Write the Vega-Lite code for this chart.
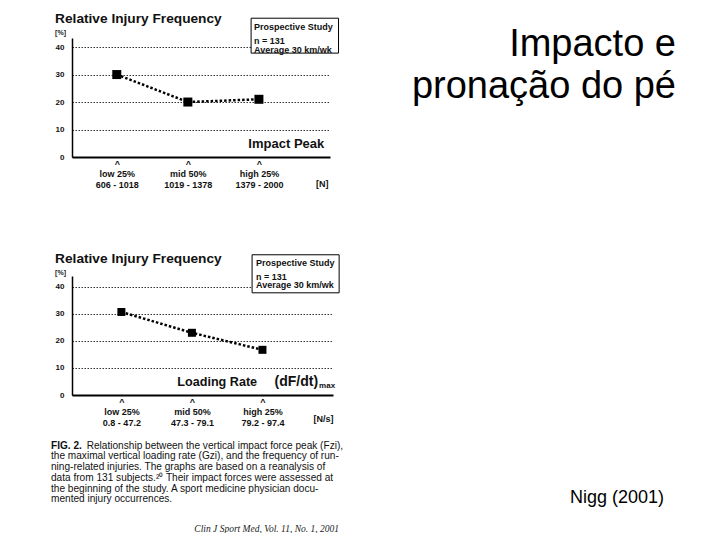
{
  "$schema": "https://vega.github.io/schema/vega-lite/v6.json",
  "background": "white",
  "padding": {"left": 51, "top": 12, "right": 5, "bottom": 0},
  "config": {
    "view": {"stroke": null},
    "font": "Liberation Sans",
    "text": {"font": "Liberation Sans"},
    "axis": {"labelFont": "Liberation Sans", "titleFont": "Liberation Sans"}
  },
  "spacing": 20,
  "hconcat": [
    {
      "spacing": 13.5,
      "vconcat": [
        {
          "spacing": 62,
          "vconcat": [
            {
              "width": 258,
              "height": 119,
              "title": {"text": "Relative Injury Frequency", "subtitle": "[%]", "anchor": "start", "frame": "bounds", "font": "Liberation Sans", "fontSize": 13.7, "fontWeight": "bold", "color": "#111", "subtitleFont": "Liberation Sans", "subtitleFontSize": 7, "subtitleFontWeight": "bold", "subtitleColor": "#222", "subtitlePadding": 3, "offset": -18},
              "data": {"values": [
                {"quartile": 1, "frequency": 30},
                {"quartile": 2, "frequency": 20},
                {"quartile": 3, "frequency": 21}
              ]},
              "layer": [
                {
                  "mark": {"type": "line", "color": "black", "strokeWidth": 2.5, "strokeDash": [2.5, 2]},
                  "encoding": {
                    "x": {"field": "quartile", "type": "quantitative", "scale": {"domain": [0.37, 4.0], "nice": false, "zero": false},
                      "axis": {"values": [1, 2, 3], "labelExpr": "split(datum.value == 1 ? '^|low 25%|606 - 1018' : datum.value == 2 ? '^|mid 50%|1019 - 1378' : '^|high 25%|1379 - 2000', '|')", "title": "[N]", "titleX": 256, "titleY": 26, "titleAlign": "right", "titleBaseline": "middle", "titleFontSize": 9, "titleFontWeight": "bold", "titleColor": "#111", "domainColor": "black", "domainWidth": 2, "ticks": false, "tickSize": 0, "grid": false, "labelAngle": 0, "labelPadding": 2, "labelFontSize": 9, "labelFontWeight": "bold", "labelLineHeight": 10.5, "labelColor": "#111", "tickCount": 10}},
                    "y": {"field": "frequency", "type": "quantitative", "scale": {"domain": [0, 43.3], "nice": false},
                      "axis": {"values": [0, 10, 20, 30, 40], "tickCount": 10, "title": null, "grid": true, "gridDash": [1.5, 1.5], "gridColor": "#333", "gridWidth": 1, "domainColor": "black", "domainWidth": 1.5, "ticks": false, "tickSize": 0, "labelPadding": 8, "labelFontSize": 8, "labelFontWeight": "bold", "labelColor": "#111"}}
                  }
                },
                {
                  "mark": {"type": "square", "size": 81, "color": "black", "filled": true, "opacity": 1},
                  "encoding": {"x": {"field": "quartile", "type": "quantitative"}, "y": {"field": "frequency", "type": "quantitative"}}
                },
                {
                  "data": {"values": [{"study": "Prospective Study", "details": "n = 131\nAverage 30 km/wk", "measure": "Impact Peak"}]},
                  "layer": [
                    {"mark": {"type": "rect", "fill": "white", "stroke": "black", "strokeWidth": 1},
                     "encoding": {"x": {"datum": 2.89}, "x2": {"datum": 4.12}, "y": {"datum": 50.5}, "y2": {"datum": 37.8}}},
                    {"mark": {"type": "text", "align": "left", "baseline": "middle", "dx": 3, "fontSize": 9, "fontWeight": "bold", "color": "#111"},
                     "encoding": {"x": {"datum": 2.89}, "y": {"datum": 47.4}, "text": {"field": "study"}}},
                    {"mark": {"type": "text", "align": "left", "baseline": "middle", "dx": 3, "fontSize": 9, "fontWeight": "bold", "lineBreak": "\n", "lineHeight": 9, "color": "#111"},
                     "encoding": {"x": {"datum": 2.89}, "y": {"datum": 42.2}, "text": {"field": "details"}}},
                    {"mark": {"type": "text", "align": "right", "baseline": "middle", "fontSize": 13, "fontWeight": "bold", "color": "#111"},
                     "encoding": {"x": {"datum": 3.919}, "y": {"datum": 4.73}, "text": {"field": "measure"}}}
                  ]
                }
              ]
            },
            {
              "width": 261,
              "height": 119,
              "title": {"text": "Relative Injury Frequency", "subtitle": "[%]", "anchor": "start", "frame": "bounds", "font": "Liberation Sans", "fontSize": 13.7, "fontWeight": "bold", "color": "#111", "subtitleFont": "Liberation Sans", "subtitleFontSize": 7, "subtitleFontWeight": "bold", "subtitleColor": "#222", "subtitlePadding": 3, "offset": -21.4},
              "data": {"values": [
                {"quartile": 1, "frequency": 30.7},
                {"quartile": 2, "frequency": 23.0},
                {"quartile": 3, "frequency": 16.7}
              ]},
              "layer": [
                {
                  "mark": {"type": "line", "color": "black", "strokeWidth": 2.5, "strokeDash": [2.5, 2]},
                  "encoding": {
                    "x": {"field": "quartile", "type": "quantitative", "scale": {"domain": [0.3, 4.0], "nice": false, "zero": false},
                      "axis": {"values": [1, 2, 3], "labelExpr": "split(datum.value == 1 ? '^|low 25%|0.8 - 47.2' : datum.value == 2 ? '^|mid 50%|47.3 - 79.1' : '^|high 25%|79.2 - 97.4', '|')", "title": "[N/s]", "titleX": 261, "titleY": 23, "titleAlign": "right", "titleBaseline": "middle", "titleFontSize": 9, "titleFontWeight": "bold", "titleColor": "#111", "domainColor": "black", "domainWidth": 2, "ticks": false, "tickSize": 0, "grid": false, "labelAngle": 0, "labelPadding": 2, "labelFontSize": 9, "labelFontWeight": "bold", "labelLineHeight": 10.5, "labelColor": "#111", "tickCount": 10}},
                    "y": {"field": "frequency", "type": "quantitative", "scale": {"domain": [0, 44], "nice": false},
                      "axis": {"values": [0, 10, 20, 30, 40], "tickCount": 10, "title": null, "grid": true, "gridDash": [1.5, 1.5], "gridColor": "#333", "gridWidth": 1, "domainColor": "black", "domainWidth": 1.5, "ticks": false, "tickSize": 0, "labelPadding": 8, "labelFontSize": 8, "labelFontWeight": "bold", "labelColor": "#111"}}
                  }
                },
                {
                  "mark": {"type": "square", "size": 64, "color": "black", "filled": true, "opacity": 1},
                  "encoding": {"x": {"field": "quartile", "type": "quantitative"}, "y": {"field": "frequency", "type": "quantitative"}}
                },
                {
                  "data": {"values": [{"study": "Prospective Study", "details": "n = 131\nAverage 30 km/wk", "measure": "Loading Rate", "unit": "(dF/dt)", "sub": "max"}]},
                  "layer": [
                    {"mark": {"type": "rect", "fill": "white", "stroke": "black", "strokeWidth": 1},
                     "encoding": {"x": {"datum": 2.853}, "x2": {"datum": 4.087}, "y": {"datum": 51.85}, "y2": {"datum": 37.78}}},
                    {"mark": {"type": "text", "align": "left", "baseline": "middle", "dx": 4, "fontSize": 9, "fontWeight": "bold", "color": "#111"},
                     "encoding": {"x": {"datum": 2.853}, "y": {"datum": 48.9}, "text": {"field": "study"}}},
                    {"mark": {"type": "text", "align": "left", "baseline": "middle", "dx": 4, "fontSize": 9, "fontWeight": "bold", "lineBreak": "\n", "lineHeight": 8.5, "color": "#111"},
                     "encoding": {"x": {"datum": 2.853}, "y": {"datum": 43.7}, "text": {"field": "details"}}},
                    {"mark": {"type": "text", "align": "right", "baseline": "middle", "fontSize": 12.6, "fontWeight": "bold", "color": "#111"},
                     "encoding": {"x": {"datum": 2.924}, "y": {"datum": 4.8}, "text": {"field": "measure"}}},
                    {"mark": {"type": "text", "align": "right", "baseline": "middle", "fontSize": 14, "fontWeight": "bold", "color": "#111"},
                     "encoding": {"x": {"datum": 3.789}, "y": {"datum": 4.8}, "text": {"field": "unit"}}},
                    {"mark": {"type": "text", "align": "left", "baseline": "middle", "dx": 1, "dy": 4, "fontSize": 8, "fontWeight": "bold", "color": "#111"},
                     "encoding": {"x": {"datum": 3.789}, "y": {"datum": 4.8}, "text": {"field": "sub"}}}
                  ]
                }
              ]
            }
          ]
        },
        {
          "width": 267,
          "height": 83,
          "data": {"values": [
            {"line": 1, "lead": "FIG. 2.", "text": "Relationship between the vertical impact force peak (Fzi),"},
            {"line": 2, "lead": "", "text": "the maximal vertical loading rate (Gzi), and the frequency of run-"},
            {"line": 3, "lead": "", "text": "ning-related injuries. The graphs are based on a reanalysis of"},
            {"line": 4, "lead": "", "text": "data from 131 subjects.²⁰ Their impact forces were assessed at"},
            {"line": 5, "lead": "", "text": "the beginning of the study. A sport medicine physician docu-"},
            {"line": 6, "lead": "", "text": "mented injury occurrences."}
          ]},
          "layer": [
            {"transform": [{"filter": "datum.line > 1"}],
             "mark": {"type": "text", "align": "left", "baseline": "middle", "dx": -21, "fontSize": 10.1, "color": "#111"},
             "encoding": {
               "x": {"datum": 0, "type": "quantitative", "scale": {"domain": [0, 1]}, "axis": null},
               "y": {"field": "line", "type": "quantitative", "axis": null, "scale": {"domain": [1, 8.69], "reverse": true, "nice": false, "zero": false}},
               "text": {"field": "text"}}},
            {"transform": [{"filter": "datum.line == 1"}],
             "mark": {"type": "text", "align": "left", "baseline": "middle", "dx": -21, "fontSize": 10.1, "fontWeight": "bold", "color": "#111"},
             "encoding": {
               "x": {"datum": 0, "type": "quantitative"},
               "y": {"field": "line", "type": "quantitative"},
               "text": {"field": "lead"}}},
            {"transform": [{"filter": "datum.line == 1"}],
             "mark": {"type": "text", "align": "left", "baseline": "middle", "dx": 14.7, "fontSize": 10.1, "color": "#111"},
             "encoding": {
               "x": {"datum": 0, "type": "quantitative"},
               "y": {"field": "line", "type": "quantitative"},
               "text": {"field": "text"}}},
            {"data": {"values": [{"source": "Clin J Sport Med, Vol. 11, No. 1, 2001"}]},
             "mark": {"type": "text", "align": "right", "baseline": "middle", "font": "Liberation Serif", "fontStyle": "italic", "fontSize": 9.5, "color": "#222"},
             "encoding": {
               "x": {"datum": 1, "type": "quantitative"},
               "y": {"datum": 8.69, "type": "quantitative"},
               "text": {"field": "source"}}}
          ]
        }
      ]
    },
    {
      "width": 312,
      "height": 465,
      "data": {"values": [{"title": "Impacto e\npronação do pé", "source": "Nigg (2001)"}]},
      "encoding": {
        "x": {"datum": 1, "type": "quantitative", "scale": {"domain": [0, 1]}, "axis": null}
      },
      "layer": [
        {"mark": {"type": "text", "align": "right", "baseline": "alphabetic", "font": "Liberation Sans", "fontSize": 38, "lineBreak": "\n", "lineHeight": 42, "dy": 18, "color": "black"},
         "encoding": {"y": {"datum": 1, "type": "quantitative", "scale": {"domain": [0, 1]}, "axis": null}, "text": {"field": "title"}}},
        {"mark": {"type": "text", "align": "right", "baseline": "alphabetic", "font": "Liberation Sans", "fontSize": 18, "dx": -12, "color": "black"},
         "encoding": {"y": {"datum": 0, "type": "quantitative"}, "text": {"field": "source"}}}
      ]
    }
  ]
}
